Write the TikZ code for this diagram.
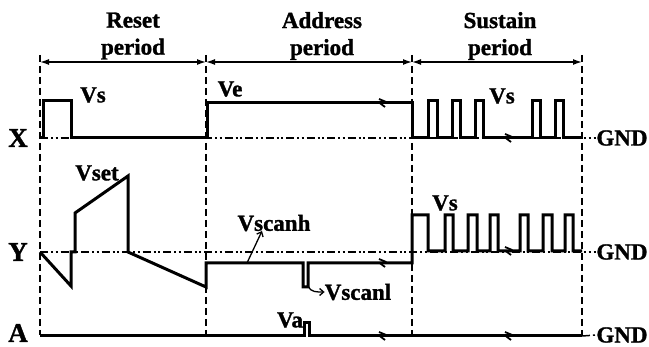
\documentclass[tikz,border=0pt]{standalone}
\usepackage{fontspec}
\setmainfont{Liberation Serif}[BoldFeatures={FakeBold=1.3}]
\usetikzlibrary{arrows.meta}
\tikzset{
  wave/.style = {line width=3pt, line join=miter},% signal trace
  gnd_line/.style = {line width=1.5pt,
    dash pattern=on 8pt off 3pt on 2pt off 2.5pt on 2pt off 3pt},% ground reference
  bound_line/.style = {line width=2pt, dash pattern=on 7pt off 4pt},% period boundary
  period_arrow/.style = {line width=1.4pt,
    {Latex[length=9pt,width=6pt]}-{Latex[length=9pt,width=6pt]}},
  label_arrow/.style = {line width=1.3pt, -{Straight Barb[length=4pt,width=7pt]}},
  title_text/.style = {align=center, inner sep=0pt,
    font=\fontsize{23}{27}\selectfont\bfseries},
  volt_text/.style = {inner sep=0pt, font=\fontsize{23}{24}\selectfont\bfseries},
  sig_text/.style = {inner sep=0pt, font=\fontsize{27}{30}\selectfont\bfseries},
  brk/.pic = {\draw[line width=1.8pt] (-3,-4) -- (3,-1.5) -- (-1,1) -- (3,4);}% break mark
}

\begin{document}
\begin{tikzpicture}[x=1pt, y=-1pt]
  \useasboundingbox (0,0) rectangle (649,347);
  % period boundaries
  \foreach \t [count=\i] in {40,206,412,582} {
    \coordinate (b\i) at (\t,62);
    \draw[bound_line] (\t,55) -- (\t,335);
  }
  \draw[period_arrow] (b1) -- (b2);
  \draw[period_arrow] (b2) -- (b3);
  \draw[period_arrow] (b3) -- (b4);
  \node[title_text] (reset) at (133,36) {Reset\\period};
  \node[title_text] (address) at (322,36) {Address\\period};
  \node[title_text] (sustain) at (500,36) {Sustain\\period};

  % signal names and ground
  \node[sig_text] (x_name) at (18,138) {X};
  \node[sig_text] (y_name) at (18,252) {Y};
  \node[sig_text] (a_name) at (18,333) {A};
  \node[volt_text] (x_gnd) at (622,138) {GND};
  \node[volt_text] (y_gnd) at (622,252) {GND};
  \node[volt_text] (a_gnd) at (622,335) {GND};
  \draw[gnd_line] (40,138) -- (x_gnd.west);
  \draw[gnd_line] (40,252) -- (y_gnd.west);
  \draw[gnd_line] (582,336) -- (a_gnd.west);

  % X electrode
  \draw[wave] (40,138) -- (43,138) -- (43,101) -- (71,101) -- (71,138) -- (207,138)
    -- (207,103) -- (412,103) -- (412,138)
    -- (428,138) -- (428,101) -- (437,101) -- (437,138)
    -- (452,138) -- (452,101) -- (460,101) -- (460,138)
    -- (475,138) -- (475,101) -- (483,101) -- (483,138)
    -- (532,138) -- (532,101) -- (540,101) -- (540,138)
    -- (555,138) -- (555,101) -- (563,101) -- (563,138) -- (582,138);
  \node[volt_text] (x_vs1) at (93,95) {Vs};
  \node[volt_text] (x_ve) at (230,89) {Ve};
  \node[volt_text] (x_vs2) at (502,96) {Vs};

  % Y electrode
  \draw[wave] (40,252) -- (71,286) -- (71,252) -- (75,252) -- (75,213) -- (128,176)
    -- (128,252) -- (206,287) -- (206,263) -- (303,263) -- (303,287) -- (308,287)
    -- (308,263) -- (412,263) -- (412,215) -- (428,215) -- (428,251)
    -- (445,251) -- (445,215) -- (453,215) -- (453,251)
    -- (468,251) -- (468,215) -- (477,215) -- (477,251)
    -- (490,251) -- (490,215) -- (498,215) -- (498,251)
    -- (520,251) -- (520,215) -- (528,215) -- (528,251)
    -- (543,251) -- (543,215) -- (552,215) -- (552,251)
    -- (565,251) -- (565,215) -- (573,215) -- (573,251) -- (582,251);
  \node[volt_text] (y_vset) at (97,173) {Vset};
  \node[volt_text] (y_vs) at (445,203) {Vs};
  \node[volt_text] (y_vscanh) at (274,223) {Vscanh};
  \node[volt_text] (y_vscanl) at (358,292) {Vscanl};
  \coordinate (vh_foot) at (247,263);
  \coordinate (vh_tip) at (262,231);
  \coordinate (vl_foot) at (308,286);
  \draw[label_arrow] (vh_foot) -- (vh_tip);
  \draw[label_arrow] (vl_foot) to[out=-70,in=180] (y_vscanl.west);

  % A electrode
  \draw[wave] (40,336) -- (304,336) -- (304,323) -- (309,323) -- (309,336) -- (582,336);
  \node[volt_text] (a_va) at (290,320) {Va};

  % breaks in time axis
  \foreach \p in {(382,103),(508,138),(382,263),(508,251),(382,336),(508,336)}
    \pic at \p {brk};
\end{tikzpicture}
\end{document}
